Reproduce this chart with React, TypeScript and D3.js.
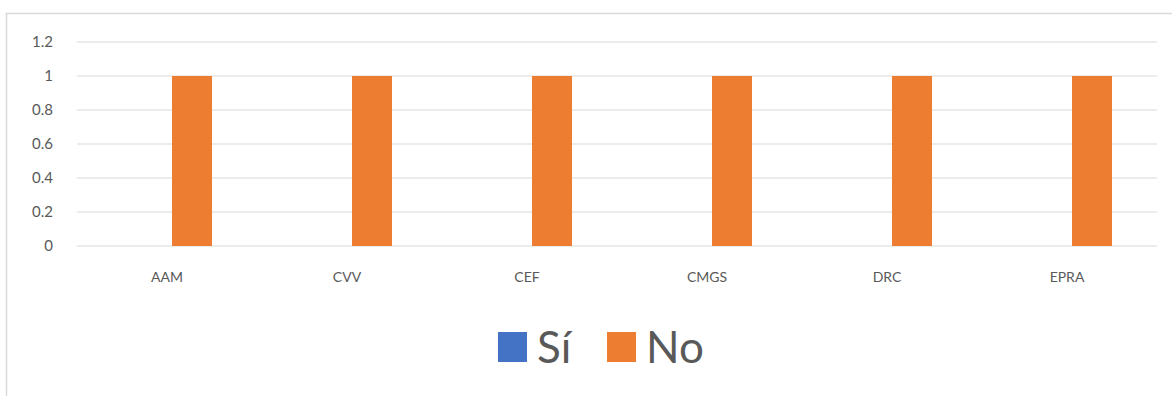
import React from "react";
import * as d3 from "d3";

const categories = ["AAM", "CVV", "CEF", "CMGS", "DRC", "EPRA"];
const seriesNames = ["Sí", "No"];
const siValues = [0, 0, 0, 0, 0, 0];
const noValues = [1, 1, 1, 1, 1, 1];
const yTicks = [0, 0.2, 0.4, 0.6, 0.8, 1, 1.2];
const colors = ["#4472C4", "#ED7D31"];

const W = 1172;
const H = 396;
const plot = { left: 77, right: 1157, top: 42, bottom: 246 };
const FONT = "Lato, 'Open Sans', sans-serif";

export default function App() {
  const x = d3
    .scaleBand<string>()
    .domain(categories)
    .range([plot.left, plot.right])
    .paddingInner(0)
    .paddingOuter(0);
  // bar pair inside each category slot (slightly right of the slot centre)
  const inner = d3
    .scaleBand<string>()
    .domain(seriesNames)
    .range([5, x.bandwidth() + 5])
    .paddingOuter(1.25)
    .paddingInner(0);
  const y = d3.scaleLinear().domain([0, 1.2]).range([plot.bottom, plot.top]);
  const series = [siValues, noValues];

  return (
    <svg
      width={W}
      height={H}
      style={{ position: "absolute", left: 0, top: 0, background: "#fff" }}
      fontFamily={FONT}
    >
      {/* chart frame */}
      <path d={`M6.5,${H} V13.5 H${W}`} fill="none" stroke="#d9d9d9" strokeWidth={1.5} />

      {/* gridlines and y tick labels */}
      {yTicks.map((t) => (
        <g key={t}>
          <line
            x1={plot.left}
            x2={plot.right}
            y1={y(t)}
            y2={y(t)}
            stroke="#d9d9d9"
            strokeWidth={1}
          />
          <text
            x={53}
            y={y(t)}
            dy="0.35em"
            textAnchor="end"
            fontSize={15}
            fill="#595959"
          >
            {String(t)}
          </text>
        </g>
      ))}

      {/* bars */}
      {categories.map((c, i) => (
        <g key={c} transform={`translate(${x(c)},0)`}>
          {seriesNames.map((s, j) => {
            const v = series[j][i];
            return (
              <rect
                key={s}
                x={inner(s)}
                y={y(v)}
                width={inner.bandwidth()}
                height={plot.bottom - y(v)}
                fill={colors[j]}
              />
            );
          })}
          <text
            x={x.bandwidth() / 2}
            y={282}
            textAnchor="middle"
            fontSize={14}
            fill="#595959"
          >
            {c}
          </text>
        </g>
      ))}

      {/* legend */}
      {seriesNames.map((s, j) => {
        const lx = [498, 607][j];
        return (
          <g key={s}>
            <rect x={lx} y={332} width={29} height={30} fill={colors[j]} />
            <text x={lx + 39} y={363} fontSize={44} fill="#595959">
              {s}
            </text>
          </g>
        );
      })}
    </svg>
  );
}
